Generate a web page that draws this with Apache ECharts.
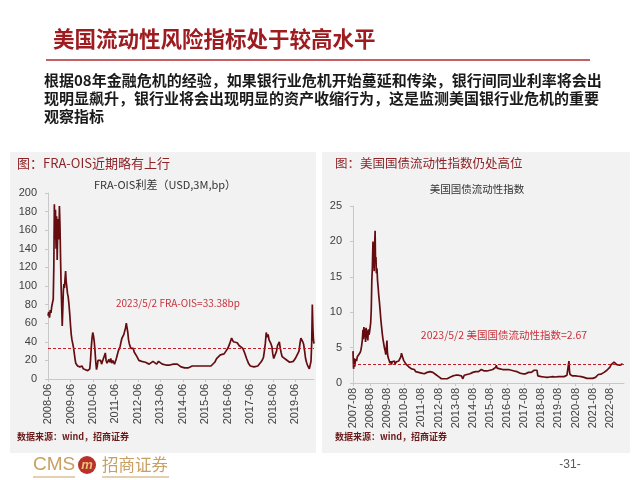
<!DOCTYPE html>
<html>
<head>
<meta charset="utf-8">
<script src="https://cdn.jsdelivr.net/npm/echarts@6/dist/echarts.min.js"></script>
<style>
html,body{margin:0;padding:0;background:#fff;}
#c{width:640px;height:480px;}
</style>
</head>
<body>
<div id="c"></div>
<script>
// ---------- Texts ----------
const mainTitle = '美国流动性风险指标处于较高水平';
const paragraph = [
  '根据08年金融危机的经验，如果银行业危机开始蔓延和传染，银行间同业利率将会出',
  '现明显飙升，银行业将会出现明显的资产收缩行为，这是监测美国银行业危机的重要',
  '观察指标'
];
const leftPanelTitle = '图：FRA-OIS近期略有上行';
const rightPanelTitle = '图：美国国债流动性指数仍处高位';
const leftChartTitle = 'FRA-OIS利差（USD,3M,bp）';
const rightChartTitle = '美国国债流动性指数';
const sourceText = '数据来源：wind，招商证券';
const leftNote = '2023/5/2 FRA-OIS=33.38bp';
const rightNote = '2023/5/2 美国国债流动性指数=2.67';
const pageNo = '-31-';

// ---------- Left chart: FRA-OIS (x = months since 2008-06) ----------
const fraTickLabels = ['2008-06','2009-06','2010-06','2011-06','2012-06','2013-06','2014-06','2015-06','2016-06','2017-06','2018-06','2019-06'];
const fraMonths = [0,0.4,0.8,1.2,1.6,2.0,2.4,2.8,3.1,3.4,3.7,4.0,4.3,4.6,4.9,5.2,5.5,5.8,6.1,6.4,6.7,7.0,7.3,7.6,7.9,8.2,8.5,8.8,9.1,9.4,9.7,10.0,10.4,10.8,11.2,11.6,12.0,12.4,12.8,13.2,13.6,14.0,14.4,14.8,15.2,15.8,16.4,17.0,17.6,18.2,18.8,19.4,20.0,20.6,21.2,21.8,22.3,22.7,23.1,23.5,23.9,24.3,24.7,25.1,25.5,25.9,26.3,26.7,27.1,27.6,28.1,28.6,29.1,29.6,30.1,30.6,31.0,31.5,32.0,32.5,33.0,33.5,34.0,34.5,35.0,35.5,36.0,36.5,37.0,37.5,38.0,38.5,39.0,39.5,40.0,40.5,41.0,41.4,41.8,42.2,42.6,43.0,43.4,43.8,44.2,44.6,45.0,45.5,46.0,46.5,47.0,47.5,48.0,48.5,49,50,51,52,53,54,55,56,57,58,59,60,61,62,63,64,65,66,67,68,69,70,71,72,73,74,75,76,77,78,79,80,81,82,83,84,85,86,87,88,89,90,91,92,93,94,95,96,97,98,98.5,99,100,101,102,103,104,105,106,107,108,108.5,109,110,111,112,113,114,115,115.5,116,116.5,117,117.5,118,118.5,119,119.5,120,120.5,121,121.5,122,122.5,123,123.5,124,124.5,125,126,127,128,129,130,131,132,133,134,134.5,135,135.5,136,136.5,137,137.5,138,138.5,139,139.5,140,140.4,140.8,141.1,141.4,141.7,142];
const fraValues = [68,72,66,74,71,78,80,86,120,188,150,182,140,175,128,160,172,150,186,165,130,100,78,57,75,95,102,98,108,116,105,100,92,88,80,70,58,48,42,38,34,28,22,17,15,14,16,13,12,14,11,12,10,12,9,8,11,20,34,44,50,46,40,30,18,10,14,20,22,18,20,16,19,17,21,28,20,17,19,21,18,22,17,20,18,16,18,22,26,30,28,35,40,44,42,48,52,55,60,58,50,42,38,36,33,35,31,33,29,30,27,24,22,20,18,19,17,18,20,16,18,19,17,16,19,17,16,18,15,16,15,17,16,15,16,14,13,13,12,13,12,13,14,13,14,13,14,13,14,13,14,12,14,13,18,22,24,26,25,27,30,33,38,44,42,40,38,39,36,37,33,28,22,17,14,12,14,13,15,14,16,19,23,30,38,50,45,48,42,44,38,35,27,22,20,24,30,36,38,40,33,28,24,23,21,20,18,17,19,22,26,30,38,44,42,40,37,30,22,18,15,13,11,12,19,40,80,55,42,38];
const fraLevel = 33.38;

// ---------- Right chart: Treasury liquidity index (x = months since 2007-08) ----------
const liqTickLabels = ['2007-08','2008-08','2009-08','2010-08','2011-08','2012-08','2013-08','2014-08','2015-08','2016-08','2017-08','2018-08','2019-08','2020-08','2021-08','2022-08'];
const liqMonths = [0,0.4,0.8,1.2,1.6,2,2.5,3,3.5,4,4.5,5,5.5,6,6.5,7,7.3,7.6,8,8.4,8.8,9.2,9.6,10,10.4,10.8,11.2,11.6,12,12.4,12.8,13.2,13.6,14,14.3,14.6,14.9,15.2,15.5,15.8,16.1,16.4,16.8,17.2,17.6,18,18.5,19,19.5,20,20.5,21,21.5,22,22.5,23,23.4,23.8,24.1,24.5,25,25.5,26,26.5,27,27.5,28,28.5,29,29.5,30,30.5,31,31.5,32,32.5,33,33.5,34,34.5,35,35.5,36,37,38,39,40,41,42,43,44,45,46,47,48,49,50,51,52,53,54,55,56,57,58,59,60,61,62,63,64,65,66,67,68,69,70,71,72,73,74,75,76,77,78,79,80,81,82,83,84,85,86,87,88,89,90,91,92,93,94,95,96,97,98,99,100,100.5,101,102,103,104,105,106,107,108,109,110,111,112,113,114,115,116,117,118,119,120,121,122,123,124,125,126,127,128,129,129.6,130,131,132,133,134,135,136,137,138,139,140,141,142,143,144,145,146,147,148,149,150,151,151.4,151.8,152.2,153,154,155,156,157,158,159,160,161,162,163,164,165,166,167,168,169,170,171,172,173,174,175,176,177,178,179,180,181,182,183,184,185,186,187,188,189];
const liqValues = [4.5,2.0,3.5,2.3,3.0,3.4,3.1,3.7,3.5,4.0,3.8,4.3,4.6,5.2,6.0,7.5,6.2,7.9,6.5,7.7,5.8,7.8,6.3,7.4,6.0,7.6,6.8,7.2,7.0,8.5,10.3,14.5,16.4,20.0,16.5,18.2,15.8,19.5,21.5,17.0,17.8,15.5,16.2,14.5,13.6,12.5,11.5,10.3,9.0,8.0,7.0,6.2,5.6,5.0,4.6,4.0,5.0,6.0,4.4,3.7,3.4,3.2,2.8,3.1,2.6,3.0,3.2,2.9,3.1,2.7,2.8,3.0,3.2,2.9,3.1,3.0,3.3,3.7,4.2,3.8,3.6,3.2,3.0,2.7,2.5,2.3,2.1,2.0,1.8,1.9,1.6,1.7,1.5,1.6,1.4,1.5,1.3,1.4,1.5,1.3,1.6,1.4,1.5,1.3,1.2,1.1,0.9,0.7,0.6,0.7,0.6,0.8,0.6,0.7,0.8,0.9,1.0,0.9,1.1,1.2,1.1,1.2,1.0,0.6,1.1,1.3,1.2,1.4,1.3,1.4,1.5,1.4,1.6,1.7,1.6,1.8,1.9,1.8,1.7,1.8,1.7,1.6,1.8,2.0,1.9,2.1,2.2,2.5,2.1,2.3,2.0,2.2,1.9,2.0,1.9,1.8,1.9,1.7,1.8,1.6,1.7,1.5,1.6,1.5,1.4,1.5,1.3,1.4,1.3,1.4,1.5,1.6,1.5,1.7,1.8,1.7,1.8,1.0,0.9,0.85,0.9,0.8,0.85,0.9,0.8,0.75,0.85,0.8,0.9,0.8,0.85,0.8,0.9,0.85,0.9,0.8,0.9,1.0,1.1,1.3,3.1,1.6,1.2,1.1,1.0,1.1,1.0,1.05,0.95,1.0,0.9,0.85,0.8,0.7,0.65,0.7,0.65,0.6,0.65,0.7,0.8,1.0,1.2,1.3,1.25,1.4,1.5,1.7,1.8,2.0,2.2,2.6,2.8,2.95,2.7,2.6,2.8,2.5,2.6,2.7];
const liqLevel = 2.67;

// ---------- build ----------
function pairs(xs, ys){ return xs.map((x,i)=>[x, ys[i]]); }
const fraTickVals = fraTickLabels.map((_,i)=>i*12);
const liqTickVals = liqTickLabels.map((_,i)=>i*12);

const LINE = '#650C10';
const DASH = '#C41E28';
const AXIS = '#C8C8C8';
const LBL = '#404040';
const CJK = '"Noto Sans CJK SC", sans-serif';
const LAT = '"Liberation Sans", Arial, sans-serif';

function xAxisCfg(gi, max, vals, labels){
  return {
    type:'value', gridIndex:gi, min:0, max:max,
    splitLine:{show:false},
    axisLine:{show:true, lineStyle:{color:AXIS, width:1}},
    axisTick:{show:true, length:3, lineStyle:{color:AXIS}, customValues: vals},
    axisLabel:{rotate:90, margin:5, color:LBL, fontSize:11, fontFamily:LAT,
      customValues: vals,
      formatter: v => { const k = Math.round(v/12); return (Math.abs(v-k*12)<1e-6 && labels[k]) ? labels[k] : ''; }}
  };
}
function yAxisCfg(gi, max, interval){
  return {
    type:'value', gridIndex:gi, min:0, max:max, interval:interval,
    splitLine:{show:false},
    axisLine:{show:true, lineStyle:{color:AXIS, width:1}},
    axisTick:{show:true, length:3, lineStyle:{color:AXIS}},
    axisLabel:{margin:11, color:LBL, fontSize:11, fontFamily:LAT}
  };
}

function txt(text, x, y, size, color, opts){
  opts = opts || {};
  return { type:'text', x:x, y:y, z:50, silent:true,
    style:{ text:text, fill:color, font:(opts.weight||'normal')+' '+size+'px '+(opts.family||CJK),
      textAlign:opts.align||'left', textVerticalAlign:'middle' } };
}

const graphics = [
  {type:'rect', z:-10, silent:true, shape:{x:10,y:152,width:306,height:301}, style:{fill:'#F2F2F2'}},
  {type:'rect', z:-10, silent:true, shape:{x:322,y:152,width:308,height:301}, style:{fill:'#F2F2F2'}},
  txt(mainTitle, 53, 39, 21.5, '#9E1B20', {weight:'bold'}),
  {type:'line', z:50, silent:true, shape:{x1:46,y1:60,x2:590,y2:60}, style:{stroke:'#B02A2E', lineWidth:1.5}},
  txt(paragraph[0], 44, 80, 15, '#1a1a1a', {weight:'bold'}),
  txt(paragraph[1], 44, 98, 15, '#1a1a1a', {weight:'bold'}),
  txt(paragraph[2], 44, 116, 15, '#1a1a1a', {weight:'bold'}),
  txt(leftPanelTitle, 17, 163, 13, '#8E2327'),
  txt(rightPanelTitle, 335, 163, 12.5, '#8E2327'),
  txt(leftChartTitle, 165, 185, 11, '#333333', {align:'center'}),
  txt(rightChartTitle, 477, 189, 10.5, '#333333', {align:'center'}),
  txt(leftNote, 178, 303, 10, '#C8323C', {align:'center'}),
  txt(rightNote, 504, 335, 10.5, '#C8323C', {align:'center'}),
  txt(sourceText, 17, 437, 9, '#6B1A1A', {weight:'bold'}),
  txt(sourceText, 335, 437, 9, '#6B1A1A', {weight:'bold'}),
  // footer
  txt('CMS', 33, 465, 19, '#C9A063', {family:LAT}),
  {type:'circle', z:50, silent:true, shape:{cx:87, cy:465, r:9}, style:{fill:'#B8322A'}},
  txt('m', 87, 465, 13, '#E8C27A', {align:'center', weight:'bold italic', family:LAT}),
  txt('招商证券', 102, 465, 16.5, '#C9A063'),
  {type:'line', z:50, silent:true, shape:{x1:33,y1:477,x2:75,y2:477}, style:{stroke:'#C9A063', lineWidth:1}},
  {type:'line', z:50, silent:true, shape:{x1:102,y1:477,x2:169,y2:477}, style:{stroke:'#C9A063', lineWidth:1}},
  txt(pageNo, 570, 465, 12, '#595959', {align:'center', family:LAT})
];

const chart = echarts.init(document.getElementById('c'), null, {renderer:'canvas', width:640, height:480});
chart.setOption({
  animation:false,
  backgroundColor:'#ffffff',
  grid:[
    {left:48, top:193, width:266, height:186, outerBoundsMode:'none', containLabel:false},
    {left:353, top:206, width:271, height:177, outerBoundsMode:'none', containLabel:false}
  ],
  xAxis:[ xAxisCfg(0, 142, fraTickVals, fraTickLabels), xAxisCfg(1, 190, liqTickVals, liqTickLabels) ],
  yAxis:[ yAxisCfg(0, 200, 20), yAxisCfg(1, 25, 5) ],
  series:[
    { type:'line', xAxisIndex:0, yAxisIndex:0, data:pairs(fraMonths, fraValues), showSymbol:false, symbol:'none',
      lineStyle:{color:LINE, width:1.7}, itemStyle:{color:LINE},
      markLine:{silent:true, symbol:'none', label:{show:false}, lineStyle:{color:DASH, type:[3,2], width:1},
        data:[{yAxis:fraLevel}]} },
    { type:'line', xAxisIndex:1, yAxisIndex:1, data:pairs(liqMonths, liqValues), showSymbol:false, symbol:'none',
      lineStyle:{color:LINE, width:1.7}, itemStyle:{color:LINE},
      markLine:{silent:true, symbol:'none', label:{show:false}, lineStyle:{color:DASH, type:[3,2], width:1},
        data:[{yAxis:liqLevel}]} }
  ],
  graphic: graphics
});
</script>
</body>
</html>
